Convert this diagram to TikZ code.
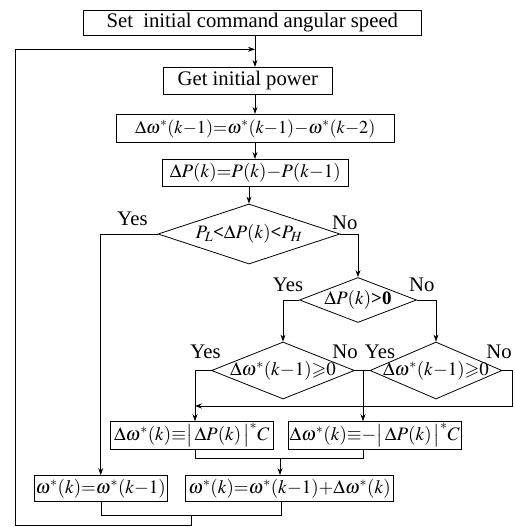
\documentclass[tikz,border=0pt]{standalone}
\usepackage{amssymb}
\usepackage{mathptmx}
\usepackage[no-math]{fontspec}
\setmainfont{Liberation Serif}
\usetikzlibrary{shapes.geometric,arrows.meta}
\newcommand{\mfs}{\fontsize{19}{22}\selectfont}
\newcommand{\mfsb}{\fontsize{18.2}{22}\selectfont}
\begin{document}
\begin{tikzpicture}[x=1pt,y=-1pt,
  every node/.style={font=\fontsize{20.7}{24}\selectfont\rmfamily},
  box/.style={draw, line width=0.8pt, inner sep=0pt},
  dia/.style={draw, diamond, line width=0.8pt, inner sep=0pt, shape aspect=1},
  lbl/.style={inner sep=0pt},
  conn/.style={line width=0.8pt},
  arr/.style={line width=0.8pt, -{Stealth[length=7pt,width=5pt]}}]
\useasboundingbox (0,0) rectangle (514,527);
% boxes
\node[box, minimum width=338.7pt, minimum height=25pt] (b1) at (252.3,22.5) {Set~ initial command angular speed};
\node[box, minimum width=169pt, minimum height=27pt] (b2) at (247.8,80.8) {Get initial power};
\node[box, minimum width=278.3pt, minimum height=28.4pt] (b3) at (255.2,128.5) {\mfsb$\Delta\omega^*(k{-}1){=}\omega^*(k{-}1){-}\omega^*(k{-}2)$};
\node[box, minimum width=186pt, minimum height=26.7pt] (b4) at (255.3,172.7) {\mfs$\Delta P(k){=}P(k){-}P(k{-}1)$};
% diamonds
\node[dia, minimum width=182pt, minimum height=60pt] (d1) at (249,234) {\makebox[0pt]{\mfs$P_L$\textbf{<}$\Delta P(k)$\textbf{<}$P_H$}};
\node[dia, minimum width=117pt, minimum height=45pt] (d2) at (358,300) {\makebox[0pt]{\mfs$\Delta P(k)$\textbf{>0}}};
\node[dia, minimum width=143pt, minimum height=57pt] (d3) at (283,370.5) {\makebox[0pt]{\mfs$\Delta\omega^*(k{-}1){\geqslant}0$}};
\node[dia, minimum width=132pt, minimum height=57pt] (d4) at (436,370.5) {\makebox[0pt]{\mfs$\Delta\omega^*(k{-}1){\geqslant}0$}};
\node[box, minimum width=163.3pt, minimum height=27.3pt] (b5) at (191.7,435.3) {\mfs$\Delta\omega^*(k){\equiv}\bigl|\,\Delta P(k)\,\bigr|^*C$};
\node[box, minimum width=172.7pt, minimum height=27.3pt] (b6) at (374.7,435.3) {\mfs$\Delta\omega^*(k){\equiv}{-}\bigl|\,\Delta P(k)\,\bigr|^*C$};
\node[box, minimum width=133.3pt, minimum height=25.8pt] (b7) at (100.7,488.4) {\mfs$\omega^*(k){=}\omega^*(k{-}1)$};
\node[box, minimum width=207.6pt, minimum height=25.8pt] (b8) at (289.5,488.4) {\mfs$\omega^*(k){=}\omega^*(k{-}1){+}\Delta\omega^*(k)$};
% labels
\node[lbl] (y1) at (132.5,219) {Yes};
\node[lbl] (n1l) at (344.7,222.5) {No};
\node[lbl] (y2) at (288,285) {Yes};
\node[lbl] (n2l) at (421.7,285) {No};
\node[lbl] (y3) at (205.5,351.5) {Yes};
\node[lbl] (n3l) at (345,351.5) {No};
\node[lbl] (y4) at (380,351.5) {Yes};
\node[lbl] (n4l) at (499,351.5) {No};
% helper coordinates
\coordinate (ax) at (255,0);
\coordinate (fb) at (255,49.3);
\coordinate (c195) at (195,0);
\coordinate (c363) at (363,0);
\coordinate (r1) at (512,406);
\coordinate (j1) at (195,406);
\coordinate (m1) at (195,458.3);
\coordinate (m2) at (363,458.3);
\coordinate (m3) at (280,458.3);
\coordinate (q1) at (101,515);
\coordinate (q2) at (281.7,515);
\coordinate (q3) at (191.7,515);
\coordinate (q4) at (191.7,525.7);
\coordinate (q5) at (15,525.7);
\coordinate (q6) at (15,49.3);
% connectors
\draw[arr] (b1.south -| ax) -- (b2.north -| ax);
\draw[arr] (b2.south -| ax) -- (b3.north -| ax);
\draw[arr] (b3.south -| ax) -- (b4.north -| ax);
\draw[arr] (b4.south -| d1.north) -- (d1.north);
\draw[arr] (d1.west) -| (b7.north);
\draw[arr] (d1.east) -| (d2.north);
\draw[arr] (d2.west) -| (d3.north);
\draw[arr] (d2.east) -| (d4.north);
\draw[arr] (d3.west) -| (b5.north -| c195);
\draw[conn] (d3.east) -- (d4.west);
\draw[arr] (d3.east -| c363) -- (b6.north -| c363);
\draw[arr] (d4.east) -| (r1) -- (j1);
\draw[conn] (b5.south -| m1) -- (m1) -- (m2) -- (b6.south -| m2);
\draw[arr] (m3) -- (b8.north -| m3);
\draw[conn] (b7.south -| q1) -- (q1) -- (q2) -- (b8.south -| q2);
\draw[arr] (q3) -- (q4) -- (q5) -- (q6) -- (fb);
\end{tikzpicture}
\end{document}
